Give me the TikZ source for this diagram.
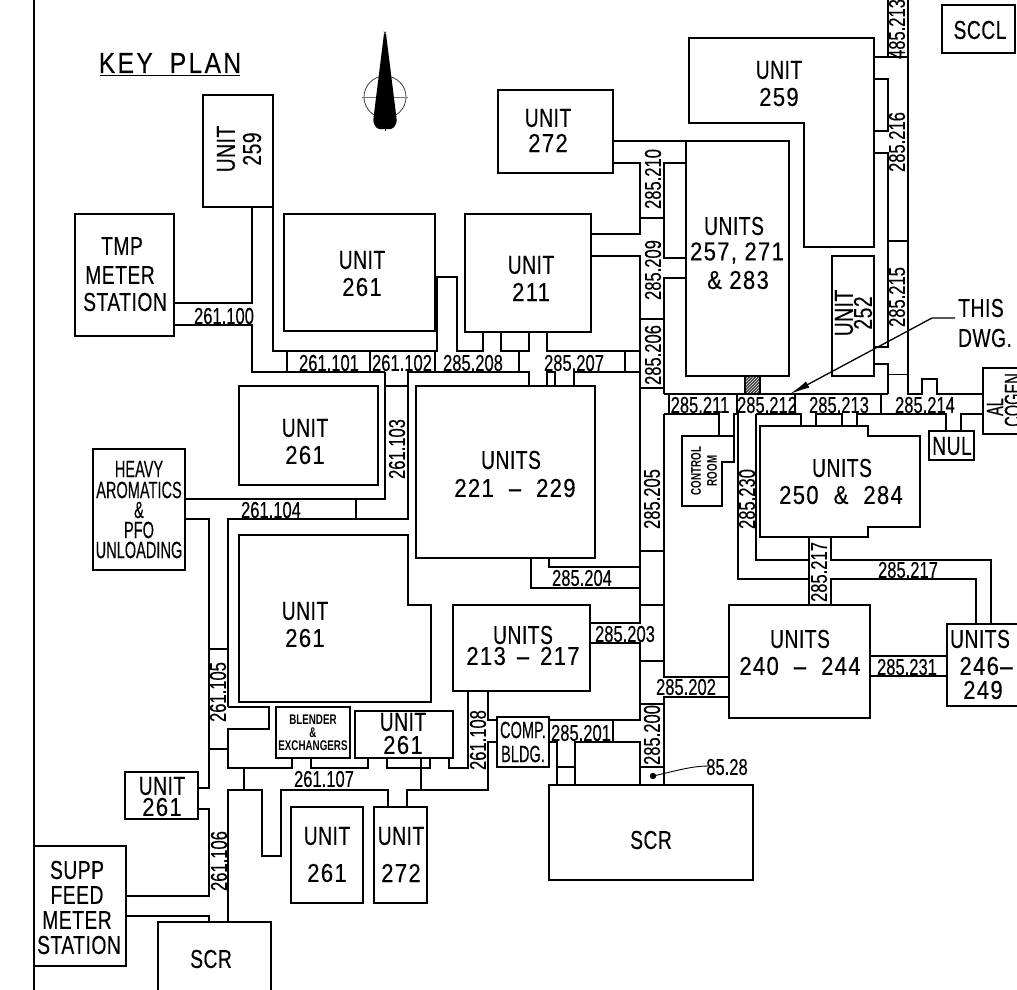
\documentclass[tikz,border=0pt]{standalone}
\usepackage{fontspec}
\usetikzlibrary{patterns,arrows.meta}
\newfontfamily\cadf[FakeStretch=0.74,LetterSpace=2,FakeBold=0.25]{Liberation Sans}
\newfontfamily\cadn[FakeStretch=0.85,LetterSpace=5,FakeBold=0.25]{Liberation Sans}
\newfontfamily\cadt[FakeStretch=0.72,FakeBold=0.25]{Liberation Sans}
\newfontfamily\cadh[FakeStretch=0.62,FakeBold=0.25]{Liberation Sans}
\newfontfamily\cadk[FakeStretch=0.85,LetterSpace=8,FakeBold=0.4]{Liberation Sans}
\newfontfamily\cadb[FakeStretch=0.70]{Liberation Sans Bold}
\tikzset{
  wall/.style={line width=1.4pt,black,line join=miter,line cap=butt},
  big/.style={inner sep=0pt,font=\fontsize{26}{26}\cadf},
  num/.style={inner sep=0pt,font=\fontsize{26}{26}\cadn},
  tag/.style={inner sep=0pt,font=\fontsize{23}{23}\cadt},
  hvy/.style={inner sep=0pt,font=\fontsize{23.5}{23.5}\cadh},
  tiny/.style={inner sep=0pt,font=\fontsize{14}{14}\cadb},
}
\newcommand{\gapd}{\hspace{15pt}}
\begin{document}
\begin{tikzpicture}[x=1pt,y=-1pt]
\useasboundingbox (0,0) rectangle (1017,990);
\clip (0,0) rectangle (1017,990);
% frame
\draw[line width=2pt] (34,0) -- (34,990);
% key plan
\node[inner sep=0pt,font=\fontsize{29}{29}\cadk] (key) at (170,63) {KEY\hspace{17pt}PLAN};
\draw[line width=1.8pt] (100,75.5) -- (240,75.5);
% north arrow
\draw[line width=0.8pt,black!75] (385,97) circle (21pt);
\draw[line width=1pt,black!55] (362,97) -- (408,97);
\draw[line width=0.8pt] (385,120) -- (385,131);
\fill[black,rounded corners=2pt] (385,32) -- (385.8,32) -- (397,122) -- (393,129) -- (377,129) -- (373,122) -- (384.2,32) -- cycle;
% boxes
\draw[wall] (203,95) rectangle (273,207);
\draw[wall] (75,214) rectangle (174,336);
\draw[wall] (284,214) rectangle (435,331);
\draw[wall] (465,214) rectangle (591,332);
\draw[wall] (498,90) rectangle (613,173);
\draw[wall] (689,38) -- (874,38) -- (874,247) -- (804,247) -- (804,123) -- (689,123) -- cycle;
\draw[wall] (686,141) rectangle (789,376);
\draw[wall] (832,256) rectangle (874,376);
\draw[wall] (942,5) rectangle (1015,53);
\draw[wall] (239,386) rectangle (378,485);
\draw[wall] (416,386) rectangle (595,558);
\draw[wall] (239,535) -- (408,535) -- (408,605) -- (431,605) -- (431,702) -- (239,702) -- cycle;
\draw[wall] (93,449) rectangle (185,570);
\draw[wall] (453,605) rectangle (590,691);
\draw[wall] (497,717) rectangle (549,767);
\draw[wall] (549,785) rectangle (753,880);
\draw[wall] (276,707) rectangle (350,758);
\draw[wall] (355,711) rectangle (453,758);
\draw[wall] (125,772) rectangle (198,819);
\draw[wall] (291,807) rectangle (363,903);
\draw[wall] (374,807) rectangle (427,903);
\draw[wall] (34,846) rectangle (126,966);
\draw[wall] (158,990) -- (158,922) -- (271,922) -- (271,990);
\draw[wall] (760,426) -- (868,426) -- (868,436) -- (920,436) -- (920,527) -- (868,527) -- (868,537) -- (760,537) -- cycle;
\draw[wall] (682,436) -- (734,436) -- (734,462) -- (722,462) -- (722,506) -- (682,506) -- cycle;
\draw[wall] (929,431) rectangle (974,460);
\draw[wall] (1020,368) -- (983,368) -- (983,434) -- (1020,434);
\draw[wall] (729,605) rectangle (870,718);
\draw[wall] (1020,624) -- (947,624) -- (947,706) -- (1020,706);
% hatched block
\fill[black!80] (745,376) rectangle (760,394);
\draw[wall,pattern=north east lines,pattern color=white] (745,376) rectangle (760,394);
% right-hand corridors
\draw[wall] (908,0) -- (908,394) -- (922,394) -- (922,379) -- (937,379) -- (937,394) -- (983,394);
\draw[wall] (888,0) -- (888,57);
\draw[wall] (874,57) -- (908,57);
\draw[wall] (874,79) -- (888,79) -- (888,131) -- (874,131);
\draw[wall] (874,153) -- (888,153) -- (888,347) -- (874,347);
\draw[wall] (888,241) -- (908,241);
\draw[wall] (874,364) -- (888,364) -- (888,394);
\draw[wall] (888,374.5) -- (908,374.5);
\draw[wall] (664,394) -- (888,394);
% upper centre corridors
\draw[wall] (664,394) -- (664,278) -- (686,278);
\draw[wall] (686,163) -- (664,163) -- (664,258) -- (686,258);
\draw[wall] (613,141) -- (686,141);
\draw[wall] (613,163) -- (640,163) -- (640,234) -- (591,234);
\draw[wall] (640,218) -- (664,218);
\draw[wall] (591,256) -- (640,256) -- (640,623) -- (590,623);
\draw[wall] (640,319) -- (664,319);
\draw[wall] (640,388) -- (664,388);
% row 351--372
\draw[wall] (273,207) -- (273,351) -- (437,351) -- (437,277) -- (457,277) -- (457,351) -- (483,351) -- (483,332);
\draw[wall] (501,332) -- (501,351) -- (529,351) -- (529,332);
\draw[wall] (547,332) -- (547,351) -- (640,351);
\draw[wall] (252,207) -- (252,303) -- (174,303);
\draw[wall] (174,325) -- (252,325) -- (252,372) -- (385,372);
\draw[wall] (287,351) -- (287,372);
\draw[wall] (370,351) -- (370,372);
\draw[wall] (435,351) -- (435,372);
\draw[wall] (519,351) -- (519,372);
\draw[wall] (625,351) -- (625,372);
\draw[wall] (385,372) -- (385,499) -- (185,499);
\draw[wall] (356,499) -- (356,519);
\draw[wall] (385,386) -- (408,386);
\draw[wall] (228,707) -- (228,519) -- (408,519) -- (408,372) -- (529,372) -- (529,386);
\draw[wall] (547,386) -- (547,372) -- (555,372) -- (555,386);
\draw[wall] (574,386) -- (574,372) -- (640,372);
% below units 221
\draw[wall] (549,558) -- (549,567) -- (640,567);
\draw[wall] (531,558) -- (531,588) -- (640,588);
\draw[wall] (640,551) -- (664,551);
\draw[wall] (640,605) -- (664,605);
\draw[wall] (640,661) -- (664,661);
\draw[wall] (640,704) -- (664,704);
\draw[wall] (640,767) -- (664,767);
\draw[wall] (664,414) -- (664,677) -- (729,677);
\draw[wall] (729,697) -- (664,697) -- (664,785);
\draw[wall] (590,643) -- (640,643) -- (640,720) -- (549,720);
\draw[wall] (613,720) -- (613,742);
\draw[wall] (549,742) -- (557,742) -- (557,785);
\draw[wall] (575,785) -- (575,742) -- (640,742) -- (640,785);
\draw[wall] (557,767) -- (575,767);
% 85.28 leader
\fill (653,776) circle (3.2pt);
\draw[line width=0.9pt] (653,776) .. controls (672,772) and (690,766) .. (709,766);
% row 394--414
\draw[wall] (664,414) -- (719,414) -- (719,436);
\draw[wall] (669,394) -- (669,414);
\draw[wall] (737,394) -- (737,414);
\draw[wall] (795,394) -- (795,414);
\draw[wall] (881,394) -- (881,414);
\draw[wall] (734,462) -- (734,414) -- (738,414) -- (738,579) -- (809,579);
\draw[wall] (756,414) -- (756,560) -- (809,560);
\draw[wall] (756,414) -- (801,414) -- (801,426);
\draw[wall] (816,426) -- (816,414) -- (842,414) -- (842,426);
\draw[wall] (857,426) -- (857,414) -- (946,414) -- (946,431);
\draw[wall] (961,431) -- (961,414) -- (983,414);
% 285.217 / 285.231
\draw[wall] (809,537) -- (809,605);
\draw[wall] (831,537) -- (831,560) -- (991,560) -- (991,624);
\draw[wall] (831,605) -- (831,579) -- (976,579) -- (976,624);
\draw[wall] (870,656) -- (947,656);
\draw[wall] (870,676) -- (947,676);
% units 213 down
\draw[wall] (468,691) -- (468,768) -- (449,768) -- (449,758);
\draw[wall] (488,691) -- (488,720) -- (497,720);
\draw[wall] (497,742) -- (488,742) -- (488,790) -- (407,790) -- (407,807);
\draw[wall] (421,758) -- (421,790);
\draw[wall] (387,758) -- (387,768) -- (430,768) -- (430,758);
\draw[wall] (368,758) -- (368,768) -- (311,768) -- (311,758);
\draw[wall] (292,758) -- (292,768) -- (228,768) -- (228,729) -- (269,729) -- (269,707) -- (228,707);
\draw[wall] (244,768) -- (244,790);
\draw[wall] (228,922) -- (228,790) -- (262,790) -- (262,856) -- (281,856) -- (281,790) -- (388,790) -- (388,807);
% left risers
\draw[wall] (185,519) -- (209,519) -- (209,788) -- (198,788);
\draw[wall] (209,649) -- (228,649);
\draw[wall] (209,749) -- (228,749);
\draw[wall] (198,809) -- (209,809) -- (209,896) -- (126,896);
\draw[wall] (126,916) -- (209,916) -- (209,922);
% this dwg arrow
\coordinate (dwgA) at (955,318);
\coordinate (dwgB) at (932,318);
\coordinate (dwgC) at (790,394);
\draw[line width=1.3pt,-{Latex[length=20pt,width=7pt]}] (dwgA) -- (dwgB) -- (dwgC);
% labels
\node[big] (a1) at (779,70) {UNIT};
\node[num] (a2) at (779,97) {259};
\node[big] (b1) at (548,118) {UNIT};
\node[num] (b2) at (548,143) {272};
\node[big,rotate=90] (c1) at (226,149) {UNIT};
\node[big,rotate=90] (c2) at (252,149) {259};
\node[big] (d1) at (122,246) {TMP};
\node[big] (d2) at (120,275) {METER};
\node[big] (d3) at (125,302) {STATION};
\node[big] (e1) at (362,260) {UNIT};
\node[num] (e2) at (362,287) {261};
\node[big] (f1) at (531,265) {UNIT};
\node[num] (f2) at (531,292) {211};
\node[big] (g1) at (734,226) {UNITS};
\node[num] (g2) at (737,253) {257, 271};
\node[num] (g3) at (738,280) {\& 283};
\node[big,rotate=90] (h1) at (844,313) {UNIT};
\node[big,rotate=90] (h2) at (863,313) {252};
\node[big] (i1) at (980,30) {SCCL};
\node[big] (j1) at (305,428) {UNIT};
\node[num] (j2) at (305,455) {261};
\node[big] (k1) at (511,460) {UNITS};
\node[num] (k2) at (515,488) {221\gapd –\gapd 229};
\node[hvy] (l1) at (139,469) {HEAVY};
\node[hvy] (l2) at (139,490) {AROMATICS};
\node[hvy] (l3) at (139,510) {\&};
\node[hvy] (l4) at (139,530) {PFO};
\node[hvy] (l5) at (139,550) {UNLOADING};
\node[big] (m1) at (305,611) {UNIT};
\node[num] (m2) at (305,638) {261};
\node[big] (n1) at (523,635) {UNITS};
\node[num] (n2) at (523,656) {213\hspace{11pt}–\hspace{11pt}217};
\node[big] (o1) at (800,639) {UNITS};
\node[num] (o2) at (800,666) {240\gapd –\gapd 244};
\node[big] (p1) at (980,639) {UNITS};
\node[num] (p2) at (986,666) {246–};
\node[num] (p3) at (983,690) {249};
\node[big] (q1) at (842,468) {UNITS};
\node[num] (q2) at (841,495) {250\gapd\&\gapd 284};
\node[tiny,rotate=90] (r1) at (696,471) {CONTROL};
\node[tiny,rotate=90] (r2) at (712,471) {ROOM};
\node[big] (s1) at (952,446) {NUL};
\node[hvy,rotate=90] (t1) at (995,407) {AL};
\node[hvy,rotate=90] (t2) at (1013,400) {COGEN};
\node[tiny] (u1) at (313,720) {BLENDER};
\node[tiny] (u2) at (313,733) {\&};
\node[tiny] (u3) at (313,746) {EXCHANGERS};
\node[big] (v1) at (403,722) {UNIT};
\node[num] (v2) at (403,745) {261};
\node[hvy] (w1) at (523,730) {COMP.};
\node[hvy] (w2) at (523,754) {BLDG.};
\node[big] (x1) at (162,786) {UNIT};
\node[num] (x2) at (162,807) {261};
\node[big] (y1) at (327,836) {UNIT};
\node[num] (y2) at (327,873) {261};
\node[big] (z1) at (401,836) {UNIT};
\node[num] (z2) at (401,873) {272};
\node[big] (aa1) at (77,870) {SUPP};
\node[big] (aa2) at (77,895) {FEED};
\node[big] (aa3) at (77,920) {METER};
\node[big] (aa4) at (79,945) {STATION};
\node[big] (ab1) at (211,959) {SCR};
\node[big] (ac1) at (651,840) {SCR};
\node[big] (ad1) at (981,308) {THIS};
\node[big] (ad2) at (985,338) {DWG.};
% line numbers
\node[tag] (n00) at (224,316) {261.100};
\node[tag] (n01) at (329,363) {261.101};
\node[tag] (n02) at (402,363) {261.102};
\node[tag] (n03) at (473,363) {285.208};
\node[tag] (n04) at (574,363) {285.207};
\node[tag,rotate=90] (n05) at (397,449) {261.103};
\node[tag] (n06) at (271,510) {261.104};
\node[tag,rotate=90] (n07) at (218,692) {261.105};
\node[tag,rotate=90] (n08) at (219,861) {261.106};
\node[tag] (n09) at (324,779) {261.107};
\node[tag,rotate=90] (n10) at (478,740) {261.108};
\node[tag] (n11) at (581,733) {285.201};
\node[tag] (n12) at (686,687) {285.202};
\node[tag] (n13) at (625,634) {285.203};
\node[tag] (n14) at (582,578) {285.204};
\node[tag,rotate=90] (n15) at (652,499) {285.205};
\node[tag,rotate=90] (n16) at (653,355) {285.206};
\node[tag,rotate=90] (n17) at (653,270) {285.209};
\node[tag,rotate=90] (n18) at (653,179) {285.210};
\node[tag] (n19) at (700,405) {285.211};
\node[tag] (n20) at (767,405) {285.212};
\node[tag] (n21) at (839,405) {285.213};
\node[tag] (n22) at (925,405) {285.214};
\node[tag,rotate=90] (n23) at (747,499) {285.230};
\node[tag,rotate=90] (n24) at (819,572) {285.217};
\node[tag] (n25) at (908,570) {285.217};
\node[tag] (n26) at (907,667) {285.231};
\node[tag,rotate=90] (n27) at (897,142) {285.216};
\node[tag,rotate=90] (n28) at (897,297) {285.215};
\node[tag,rotate=90] (n29) at (897,29) {485.213};
\node[tag,rotate=90] (n30) at (652,735) {285.200};
\node[tag] (n31) at (727,767) {85.28};
\end{tikzpicture}
\end{document}
